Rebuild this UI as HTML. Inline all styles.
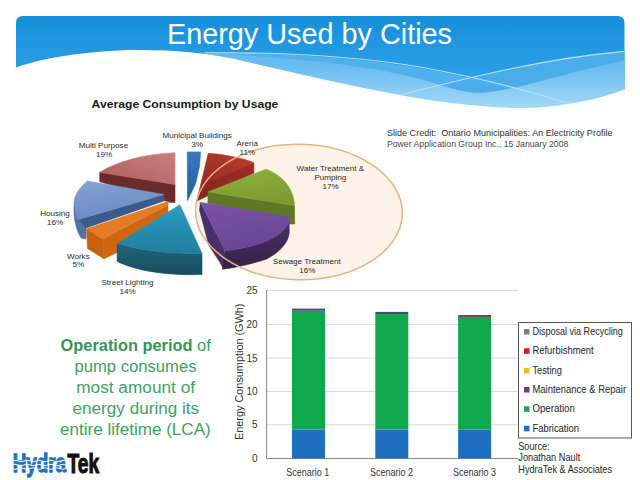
<!DOCTYPE html>
<html><head><meta charset="utf-8">
<style>
html,body{margin:0;padding:0;background:#fff;width:640px;height:480px;overflow:hidden}
svg{display:block}
text{font-family:"Liberation Sans",sans-serif}
</style></head>
<body>
<svg width="640" height="480" viewBox="0 0 640 480">
<defs>
  <linearGradient id="bn" x1="0" y1="0" x2="0" y2="1">
    <stop offset="0" stop-color="#1590da"/>
    <stop offset="0.6" stop-color="#2c9fe5"/>
    <stop offset="1" stop-color="#44b0ee"/>
  </linearGradient>
  <linearGradient id="lb" x1="0" y1="0" x2="0" y2="1">
    <stop offset="0.2" stop-color="#68bbf0"/>
    <stop offset="1" stop-color="#a8dbf8"/>
  </linearGradient>
</defs>
<rect width="640" height="480" fill="#fff"/>

<!-- ===== Banner ===== -->
<g id="banner">
  <path d="M16,23 Q16,16 23,16 L617.5,16 Q624.5,16 624.5,23 L624.5,112 L16,112 Z" fill="url(#bn)"/>
  <!-- medium band -->
  <path d="M200,52.5 C 280,52 360,58 420,68 C 470,77 520,90 572,105 L624.5,112 L200,112 Z" fill="#4fb0ec"/>
  <path d="M396,96 C 460,80 540,57 624.5,51 L624.5,112 L396,112 Z" fill="#4aade9"/>
  <!-- light band -->
  <path d="M210,53.5 C 300,58 370,66 420,79 C 445,86 462,93 480,93 C 510,92 560,74 624.5,60.4 L624.5,112 L210,112 Z" fill="url(#lb)"/>
  <!-- lines -->
  <path d="M205,52.8 C 290,52 360,57 420,67 C 470,76 520,88 572,104.5" fill="none" stroke="#b4def8" stroke-width="1.15"/>
  <path d="M396,96 C 460,80 540,59 624.5,51.4" fill="none" stroke="#b4def8" stroke-width="1.15"/>
  <!-- white wave -->
  <path d="M16,67.5 C 45,57 95,50 140,50 C 175,50 205,53 235,59 C 285,71 340,84 400,95 C 440,103 490,108 525,108 C 565,107 600,99 624.5,89.6 L630,89 L630,125 L10,125 L10,67.5 Z" fill="#fff"/>
  <text x="167" y="43.7" font-size="28.6" fill="#fff" textLength="285" lengthAdjust="spacingAndGlyphs">Energy Used by Cities</text>
</g>

<!-- ===== Pie title ===== -->
<text x="91.6" y="107.6" font-size="11.6" font-weight="bold" fill="#1a1a1a" textLength="186.8" lengthAdjust="spacingAndGlyphs">Average Consumption by Usage</text>

<!-- slide credit -->
<text x="387" y="136.1" font-size="8.8" fill="#303030" xml:space="preserve" textLength="225.5" lengthAdjust="spacingAndGlyphs">Slide Credit:  Ontario Municipalities: An Electricity Profile</text>
<text x="387" y="147.3" font-size="8.8" fill="#484848" textLength="181.3" lengthAdjust="spacingAndGlyphs">Power Application Group Inc., 15 January 2008</text>

<!-- ===== Pie chart ===== -->
<ellipse transform="rotate(1 299 212) " cx="299" cy="212" rx="103.4" ry="67.7" fill="#fdf3e9"/>
<g id="pie">
  <defs>
    <linearGradient id="mpT" x1="1" y1="0" x2="0" y2="1"><stop offset="0" stop-color="#c98080"/><stop offset="1" stop-color="#ad5d5b"/></linearGradient>
    <linearGradient id="hoT" x1="0.3" y1="0" x2="0.6" y2="1"><stop offset="0" stop-color="#849fd2"/><stop offset="1" stop-color="#6a89c2"/></linearGradient>
    <linearGradient id="slT" x1="0" y1="0" x2="0" y2="1"><stop offset="0" stop-color="#2a9cc2"/><stop offset="1" stop-color="#217e9c"/></linearGradient>
    <linearGradient id="slS" x1="0" y1="0" x2="0" y2="1"><stop offset="0" stop-color="#20657c"/><stop offset="1" stop-color="#174d5f"/></linearGradient>
    <linearGradient id="arT" x1="1" y1="0" x2="0" y2="1"><stop offset="0" stop-color="#c03c2e"/><stop offset="1" stop-color="#8a2520"/></linearGradient>
    <linearGradient id="wtT" x1="0" y1="0" x2="0.3" y2="1"><stop offset="0" stop-color="#8fb23a"/><stop offset="1" stop-color="#7c9c30"/></linearGradient>
    <linearGradient id="swT" x1="0" y1="0" x2="0.3" y2="1"><stop offset="0" stop-color="#7a52a6"/><stop offset="1" stop-color="#6a4694"/></linearGradient>
    <linearGradient id="swS" x1="0" y1="0" x2="0" y2="1"><stop offset="0" stop-color="#4b3064"/><stop offset="1" stop-color="#34214a"/></linearGradient>
    <linearGradient id="muT" x1="0" y1="0" x2="0" y2="1"><stop offset="0" stop-color="#3579c0"/><stop offset="1" stop-color="#255c9c"/></linearGradient>
  </defs>
  <!-- Multi Purpose -->
  <path d="M99.7,172.3 L175,184.5 L175,202.5 L169.7,202.3 L99.7,181.7 Z" fill="#6a2b2b" stroke="#6a2b2b" stroke-width="0.6" stroke-linejoin="round"/>
  <path d="M99.7,172.3 C 118,161 145,154 175,152.7 L175,184.5 Z" fill="url(#mpT)" stroke="url(#mpT)" stroke-width="0.6" stroke-linejoin="round"/>
  <!-- Housing -->
  <path d="M74.3,201.6 C 73,214 75,229 81.3,238.3 L86,239 L86,226.6 L78.2,219.5 Z" fill="#5272a8" stroke="#5272a8" stroke-width="0.6" stroke-linejoin="round"/>
  <path d="M78.2,219.5 L164,194.5 L164,201 L86,228 Z" fill="#3d5a8a" stroke="#3d5a8a" stroke-width="0.6" stroke-linejoin="round"/>
  <path d="M87.5,181 C 79,188 74,196 74.3,201.6 C 74.5,209 76,215 78.2,219.5 L164,194.5 Z" fill="url(#hoT)" stroke="url(#hoT)" stroke-width="0.6" stroke-linejoin="round"/>
  <!-- Works -->
  <path d="M86.6,228.8 L102.5,239 L104,258.8 L87.5,248.4 Z" fill="#c65f0e" stroke="#c65f0e" stroke-width="0.6" stroke-linejoin="round"/>
  <path d="M102.5,239 L168,205 L168,228 L104,258.8 Z" fill="#cf6710" stroke="#cf6710" stroke-width="0.6" stroke-linejoin="round"/>
  <path d="M86.6,228.8 L168,201.6 L168,205 L102.5,239 Z" fill="#e27c26" stroke="#e27c26" stroke-width="0.6" stroke-linejoin="round"/>
  <!-- Street Lighting -->
  <path d="M117.1,243.7 C 140,250 170,254 202,253.4 L202,274.6 C 172,275.5 138,272 117.1,261.4 Z" fill="url(#slS)" stroke="url(#slS)" stroke-width="0.6" stroke-linejoin="round"/>
  <path d="M179.9,204.7 L202,253.4 C 170,254 140,250 117.1,243.7 Z" fill="url(#slT)" stroke="url(#slT)" stroke-width="0.6" stroke-linejoin="round"/>
  <!-- Municipal -->
  <path d="M187.25,151.9 L200.6,151.9 L199.6,166 L195.6,183.7 L187.5,200.6 Z" fill="url(#muT)" stroke="url(#muT)" stroke-width="0.6" stroke-linejoin="round"/>
  <!-- Arena -->
  <path d="M208.3,153.3 C 225,154.5 242,158 253.8,162.6 L253.8,173.1 L196.7,201.1 Z" fill="url(#arT)" stroke="url(#arT)" stroke-width="0.6" stroke-linejoin="round"/>
  <path d="M253.8,163.5 L253.8,173.1 L196.7,201.1 L204,185 Z" fill="#872320" opacity="0.55" stroke="#872320" stroke-width="0.6" stroke-linejoin="round"/>
  <!-- Water Treatment -->
  <path d="M207.9,191.9 L294.5,205.6 L294.7,224 L289.5,224 L289.5,218 L207.9,203.4 Z" fill="#5e7826" stroke="#5e7826" stroke-width="0.6" stroke-linejoin="round"/>
  <path d="M207.9,191.9 L264.5,169.8 Q 266,169 267.5,169.7 C 283,176 294,189 294.5,205.6 Z" fill="url(#wtT)" stroke="url(#wtT)" stroke-width="0.6" stroke-linejoin="round"/>
  <!-- Sewage -->
  <path d="M200.3,202.5 L224.5,249.5 L223.7,269.2 L219.5,261.7 L208.7,245 L199.5,210 Z" fill="#4a3068" stroke="#4a3068" stroke-width="0.6" stroke-linejoin="round"/>
  <path d="M289.2,221.7 C 284,234 266,246 225,250.8 L222.5,269.2 C 235,268 255,263 266.7,259 C 280,252 288,243 289.2,233.3 Z" fill="url(#swS)" stroke="url(#swS)" stroke-width="0.6" stroke-linejoin="round"/>
  <path d="M200.8,202.5 L289.5,216.8 L289.2,221.7 C 284,234 266,246 225,250.8 Z" fill="url(#swT)" stroke="url(#swT)" stroke-width="0.6" stroke-linejoin="round"/>
</g>

<!-- ellipse -->
<ellipse transform="rotate(1 299 212) " cx="299" cy="212" rx="103.4" ry="67.7" fill="none" stroke="#e6b27e" stroke-width="1.5"/>

<!-- pie labels -->
<g font-size="8.1" fill="#2a2a2a" text-anchor="middle">
  <text x="103.4" y="148">Multi Purpose</text>
  <text x="104.2" y="156.6">19%</text>
  <text x="197.2" y="138.1">Municipal Buildings</text>
  <text x="197.2" y="147.1">3%</text>
  <text x="247.2" y="145.6">Arena</text>
  <text x="247.4" y="155">11%</text>
  <text x="330.4" y="170.75">Water Treatment &amp;</text>
  <text x="330.4" y="179.6">Pumping</text>
  <text x="330.7" y="188.5">17%</text>
  <text x="306.8" y="263.6">Sewage Treatment</text>
  <text x="307.4" y="272.5">16%</text>
  <text x="55" y="216">Housing</text>
  <text x="55" y="225">16%</text>
  <text x="78.3" y="258.6">Works</text>
  <text x="78.3" y="267.4">5%</text>
  <text x="127.5" y="285.2">Street Lighting</text>
  <text x="127.5" y="293.9">14%</text>
</g>

<!-- ===== Green text ===== -->
<g fill="#3f9f62" font-size="16">
  <text x="60.6" y="350.6" textLength="150.1" lengthAdjust="spacingAndGlyphs"><tspan font-weight="bold" fill="#339658">Operation period</tspan> of</text>
  <text x="74.4" y="371.8" textLength="122.1" lengthAdjust="spacingAndGlyphs">pump consumes</text>
  <text x="76.2" y="392.8" textLength="118.9" lengthAdjust="spacingAndGlyphs">most amount of</text>
  <text x="72.5" y="413.8" textLength="126.7" lengthAdjust="spacingAndGlyphs">energy during its</text>
  <text x="60" y="435" textLength="150.7" lengthAdjust="spacingAndGlyphs">entire lifetime (LCA)</text>
</g>

<!-- ===== Logo ===== -->
<g id="logo">
  <text x="12.7" y="471.9" font-size="26.5" font-weight="bold" fill="#1b74b6" stroke="#1b74b6" stroke-width="1.3" textLength="53.4" lengthAdjust="spacingAndGlyphs">Hydra</text>
  <g fill="none" stroke="#fff" stroke-width="1" opacity="0.95">
    <path d="M12,461 q3,-1.5 6,0 t6,0 t6,0 t6,0 t6,0 t6,0 t6,0 t6,0 t6,0"/>
    <path d="M12,465 q3,-1.5 6,0 t6,0 t6,0 t6,0 t6,0 t6,0 t6,0 t6,0 t6,0"/>
    <path d="M12,468.6 q3,1.5 6,0 t6,0 t6,0 t6,0 t6,0 t6,0 t6,0 t6,0 t6,0"/>
  </g>
  <text x="67.4" y="472.6" font-size="27" font-weight="bold" fill="#141010" stroke="#141010" stroke-width="1.1" textLength="31.7" lengthAdjust="spacingAndGlyphs">Tek</text>
</g>

<!-- ===== Bar chart ===== -->
<g id="bar">
  <g stroke="#d9d9d9" stroke-width="1">
    <line x1="266.6" y1="290.3" x2="518" y2="290.3"/>
    <line x1="266.6" y1="324.5" x2="518" y2="324.5"/>
    <line x1="266.6" y1="358" x2="518" y2="358"/>
    <line x1="266.6" y1="391.5" x2="518" y2="391.5"/>
    <line x1="266.6" y1="424.8" x2="518" y2="424.8"/>
  </g>
  <line x1="266.6" y1="290" x2="266.6" y2="458.5" stroke="#868686" stroke-width="1"/>
  <line x1="266.6" y1="458.5" x2="518" y2="458.5" stroke="#868686" stroke-width="1"/>
  <!-- bars -->
  <rect x="292" y="429.6" width="33" height="28.9" fill="#1f6fc0"/>
  <rect x="292" y="311" width="33" height="118.6" fill="#11a84e"/>
  <rect x="292" y="308.6" width="33" height="2.2" fill="#4b4a84"/>
  <rect x="375.3" y="429.6" width="33" height="28.9" fill="#1f6fc0"/>
  <rect x="375.3" y="314" width="33" height="115.6" fill="#11a84e"/>
  <rect x="375.3" y="311.9" width="33" height="2.1" fill="#4f4387"/>
  <rect x="458.1" y="429.6" width="33" height="28.9" fill="#1f6fc0"/>
  <rect x="458.1" y="317" width="33" height="112.6" fill="#11a84e"/>
  <rect x="458.1" y="315" width="33" height="2" fill="#74406e"/>
  <g font-size="10" fill="#333" text-anchor="end">
    <text x="257.5" y="294">25</text>
    <text x="257.5" y="327.8">20</text>
    <text x="257.5" y="361.5">15</text>
    <text x="257.5" y="395">10</text>
    <text x="257.5" y="428.3">5</text>
    <text x="257.5" y="462">0</text>
  </g>
  <g font-size="10" fill="#333" text-anchor="middle">
    <text x="307.8" y="476" textLength="43" lengthAdjust="spacingAndGlyphs">Scenario 1</text>
    <text x="391.5" y="476" textLength="43" lengthAdjust="spacingAndGlyphs">Scenario 2</text>
    <text x="474.5" y="476" textLength="43" lengthAdjust="spacingAndGlyphs">Scenario 3</text>
  </g>
  <text transform="translate(242.6,440) rotate(-90)" x="0" y="0" font-size="10" fill="#333" textLength="136.5" lengthAdjust="spacingAndGlyphs">Energy Consumption (GWh)</text>
  <!-- legend -->
  <rect x="518.5" y="322.5" width="113" height="115.5" fill="#fff" stroke="#595959" stroke-width="1"/>
  <rect x="524" y="329" width="5.5" height="5.5" fill="#7f7f7f"/>
  <rect x="524" y="348.3" width="5.5" height="5.5" fill="#e0141e"/>
  <rect x="524" y="368" width="5.5" height="5.5" fill="#e9c11a"/>
  <rect x="524" y="387" width="5.5" height="5.5" fill="#6a3b9e"/>
  <rect x="524" y="406.3" width="5.5" height="5.5" fill="#1fa35a"/>
  <rect x="524" y="425.8" width="5.5" height="5.5" fill="#1f6fc0"/>
  <g font-size="10.3" fill="#262626">
    <text x="532.4" y="334.8" textLength="90.4" lengthAdjust="spacingAndGlyphs">Disposal via Recycling</text>
    <text x="532.4" y="354.3" textLength="61.3" lengthAdjust="spacingAndGlyphs">Refurbishment</text>
    <text x="532.4" y="373.9" textLength="29.4" lengthAdjust="spacingAndGlyphs">Testing</text>
    <text x="532.4" y="393" textLength="93.7" lengthAdjust="spacingAndGlyphs">Maintenance &amp; Repair</text>
    <text x="532.4" y="412.4" textLength="42.5" lengthAdjust="spacingAndGlyphs">Operation</text>
    <text x="532.4" y="431.9" textLength="46.7" lengthAdjust="spacingAndGlyphs">Fabrication</text>
  </g>
  <g font-size="10.3" fill="#262626">
    <text x="518.3" y="449.8" textLength="31.3" lengthAdjust="spacingAndGlyphs">Source:</text>
    <text x="518.3" y="460.8" textLength="62" lengthAdjust="spacingAndGlyphs">Jonathan Nault</text>
    <text x="518.3" y="472.7" textLength="93.7" lengthAdjust="spacingAndGlyphs">HydraTek &amp; Associates</text>
  </g>
</g>
</svg>
</body></html>
